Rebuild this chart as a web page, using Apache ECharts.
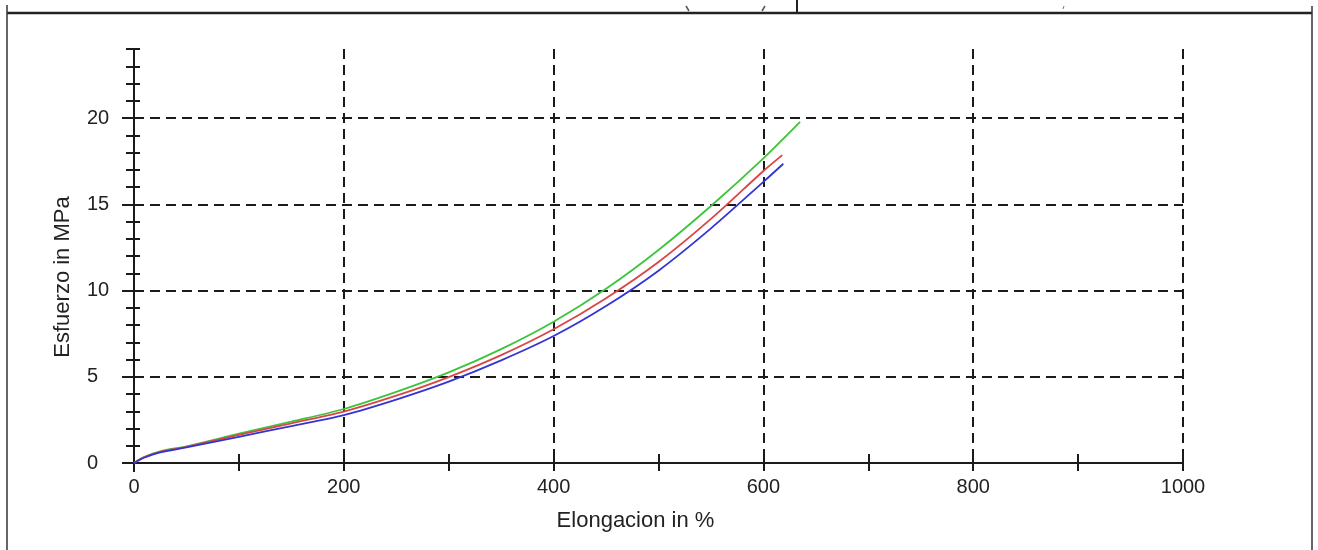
<!DOCTYPE html>
<html>
<head>
<meta charset="utf-8">
<script src="https://cdn.jsdelivr.net/npm/echarts@6.0.0/dist/echarts.min.js"></script>
<style>
  html, body { margin: 0; padding: 0; background: #fff; }
</style>
</head>
<body>
<div id="chart" style="width:1318px;height:550px;"></div>
<script>
// curves: elongation (%) / stress (MPa)
var greenX = [0, 10, 25, 50, 100, 150, 200, 250, 300, 350, 400, 450, 500, 550, 600, 635];
var greenY = [0, 0.36, 0.68, 0.97, 1.7, 2.4, 3.13, 4.12, 5.25, 6.6, 8.19, 10.1, 12.35, 14.9, 17.66, 19.77];
var redX = [0, 10, 25, 50, 100, 150, 200, 250, 300, 350, 400, 450, 500, 550, 600, 618];
var redY = [0, 0.34, 0.65, 0.94, 1.63, 2.3, 2.98, 3.9, 4.98, 6.25, 7.75, 9.55, 11.65, 14.15, 16.93, 17.85];
var blueX = [0, 10, 25, 50, 100, 150, 200, 250, 300, 350, 400, 450, 500, 550, 600, 619];
var blueY = [0, 0.32, 0.62, 0.9, 1.52, 2.14, 2.78, 3.68, 4.72, 5.95, 7.36, 9.1, 11.15, 13.6, 16.3, 17.35];

// axis ticks
var xMajor = [0, 200, 400, 600, 800, 1000];
var yMajor = [0, 5, 10, 15, 20];
var yGrid = [5, 10, 15, 20];

function pairs(xs, ys) {
  var out = [];
  for (var i = 0; i < xs.length; i++) out.push([xs[i], ys[i]]);
  return out;
}

var font = "'Liberation Sans', Arial, Helvetica, sans-serif";
var ink = '#1a1a1a';
var dash = [10, 6];

var myChart = echarts.init(document.getElementById('chart'));
var options = {
  animation: false,
  backgroundColor: '#fff',
  grid: { left: 134, right: 135, top: 49, bottom: 87, outerBoundsMode: 'none' },
  xAxis: [
    {
      type: 'value', min: 0, max: 1000, interval: 100, position: 'bottom',
      name: 'Elongacion in %', nameLocation: 'middle', nameGap: 47,
      nameTextStyle: { fontFamily: font, fontSize: 22, color: '#222', padding: [0, 46, 0, 0] },
      axisLine: { show: true, onZero: false, lineStyle: { color: ink, width: 2 } },
      axisTick: { show: true, inside: false, length: 8, lineStyle: { color: ink, width: 2 } },
      axisLabel: {
        margin: 14, fontFamily: font, fontSize: 20, color: '#222',
        formatter: function (v) { return xMajor.indexOf(v) >= 0 ? String(v) : ''; }
      },
      splitLine: { show: false }
    },
    {
      type: 'value', min: 0, max: 1000, interval: 100, position: 'bottom',
      axisLine: { show: false },
      axisTick: { show: true, inside: true, length: 9, lineStyle: { color: ink, width: 2 } },
      axisLabel: { show: false },
      splitLine: { show: false }
    },
    {
      type: 'value', min: 0, max: 1000, interval: 200, position: 'bottom',
      axisLine: { show: false },
      axisTick: { show: false },
      axisLabel: { show: false },
      splitLine: { show: true, lineStyle: { color: ink, width: 2, type: dash } }
    }
  ],
  yAxis: [
    {
      type: 'value', min: 0, max: 24, interval: 1, position: 'left',
      name: 'Esfuerzo in MPa', nameLocation: 'middle', nameGap: 60, nameRotate: 90,
      nameTextStyle: { fontFamily: font, fontSize: 22, color: '#222', padding: [0, 42, 0, 0] },
      axisLine: { show: true, onZero: false, lineStyle: { color: ink, width: 2 } },
      axisTick: { show: true, inside: false, length: 8, lineStyle: { color: ink, width: 2 } },
      axisLabel: {
        align: 'left', margin: 47, fontFamily: font, fontSize: 20, color: '#222',
        formatter: function (v) { return yMajor.indexOf(v) >= 0 ? String(v) : ''; }
      },
      splitLine: { show: false }
    },
    {
      type: 'value', min: 0, max: 24, interval: 1, position: 'left',
      axisLine: { show: false },
      axisTick: { show: true, inside: true, length: 6, lineStyle: { color: ink, width: 2 } },
      axisLabel: { show: false },
      splitLine: { show: false }
    },
    {
      type: 'value', min: 0, max: 24, interval: 5, position: 'left',
      axisLine: { show: false },
      axisTick: { show: true, inside: false, length: 12, customValues: yMajor, lineStyle: { color: ink, width: 2 } },
      axisLabel: { show: false },
      splitLine: { show: false }
    }
  ],
  series: [
    {
      name: 'grid', type: 'line', data: [], silent: true,
      markLine: {
        silent: true, symbol: 'none', z: 1,
        label: { show: false },
        lineStyle: { color: ink, width: 2, type: dash },
        data: yGrid.map(function (v) { return { yAxis: v }; })
      }
    },
    {
      name: 'verde', type: 'line', smooth: 0.3, showSymbol: false, z: 3,
      lineStyle: { color: '#3cc43c', width: 1.8 },
      data: pairs(greenX, greenY)
    },
    {
      name: 'rojo', type: 'line', smooth: 0.3, showSymbol: false, z: 4,
      lineStyle: { color: '#d94545', width: 1.8 },
      data: pairs(redX, redY)
    },
    {
      name: 'azul', type: 'line', smooth: 0.3, showSymbol: false, z: 5,
      lineStyle: { color: '#3434d4', width: 1.8 },
      data: pairs(blueX, blueY)
    }
  ],
  graphic: [
    { type: 'line', shape: { x1: 7, y1: 13, x2: 1312, y2: 13 }, style: { stroke: '#222', lineWidth: 2.5 } },
    { type: 'line', shape: { x1: 7, y1: 5, x2: 7, y2: 550 }, style: { stroke: '#333', lineWidth: 1.5 } },
    { type: 'line', shape: { x1: 1312, y1: 6, x2: 1312, y2: 550 }, style: { stroke: '#333', lineWidth: 1.5 } },
    { type: 'line', shape: { x1: 797, y1: 0, x2: 797, y2: 13 }, style: { stroke: '#222', lineWidth: 2 } },
    { type: 'line', shape: { x1: 686, y1: 6, x2: 689, y2: 11 }, style: { stroke: '#555', lineWidth: 1.5 } },
    { type: 'line', shape: { x1: 762, y1: 11, x2: 765, y2: 6 }, style: { stroke: '#555', lineWidth: 1.5 } },
    { type: 'line', shape: { x1: 1063, y1: 9, x2: 1064, y2: 6 }, style: { stroke: '#777', lineWidth: 1 } },
    // axis line stubs past the origin, as in the source
    { type: 'line', shape: { x1: 122, y1: 463, x2: 134, y2: 463 }, style: { stroke: ink, lineWidth: 2 } },
    { type: 'line', shape: { x1: 134, y1: 463, x2: 134, y2: 472 }, style: { stroke: ink, lineWidth: 2 } }
  ]
};
myChart.setOption(options);
</script>
</body>
</html>
